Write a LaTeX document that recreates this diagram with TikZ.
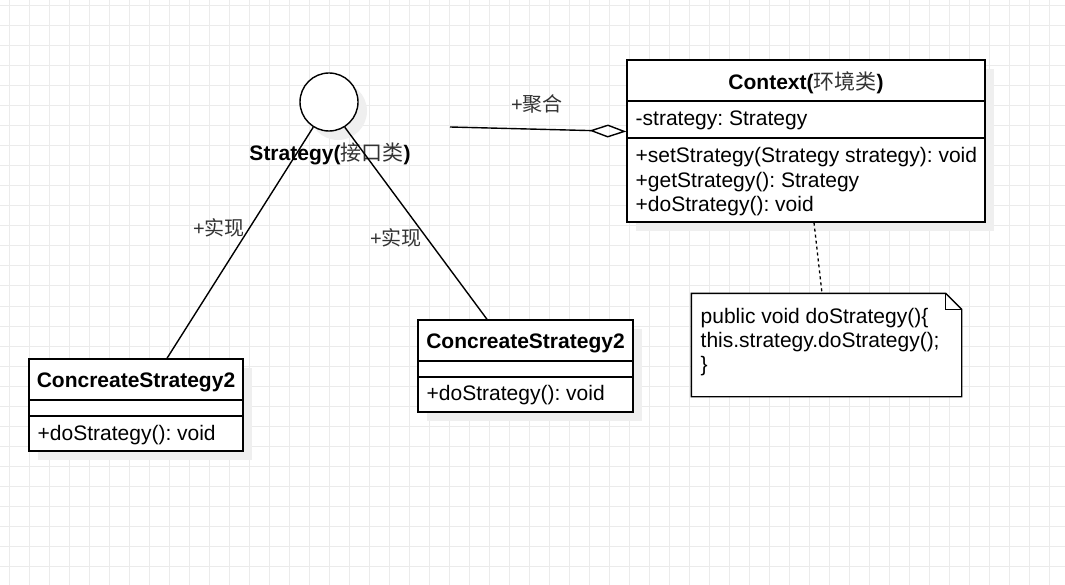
\documentclass[tikz,border=0pt]{standalone}
\usepackage{fontspec}
\setmainfont{Liberation Sans}
\newfontfamily\cjk{Noto Sans CJK SC}
\usetikzlibrary{arrows.meta,shadows}
\definecolor{gridc}{HTML}{EBEBEB}
\definecolor{shadowc}{HTML}{EFEFEF}
\definecolor{lblc}{HTML}{333333}
\newcommand{\cj}[1]{{\cjk\mdseries\color{lblc}#1}}
\frenchspacing
\begin{document}
\begin{tikzpicture}[x=1pt,y=-1pt,
  font=\fontsize{21}{24.5}\selectfont,
  line width=1.4pt,
  shad/.style={drop shadow={shadow xshift=9pt,shadow yshift=-9pt,fill=shadowc,opacity=1}},
  classbox/.style={draw,fill=white,inner sep=0,shad},
  ctitle/.style={font=\fontsize{21}{24.5}\selectfont\bfseries,inner sep=0,yshift=-2pt},
  member/.style={anchor=west,inner sep=0,yshift=-2pt},
  lbl/.style={inner sep=0,text=lblc,font=\fontsize{20}{24}\selectfont}]
\useasboundingbox (0,0) rectangle (1065,585);
\fill[white] (0,0) rectangle (1065,585);
\foreach \x in {9,29,...,1065} \draw[gridc,line width=1pt] (\x,0) -- (\x,585);
\foreach \y in {6,26,...,585} \draw[gridc,line width=1pt] (0,\y) -- (1065,\y);

% interface
\node[circle,draw,fill=white,minimum size=58,inner sep=0,shad] (iface) at (329,102) {};
\node[ctitle] (ifacel) at (330,152) {Strategy(\cj{接口类})};

% context class
\node[classbox,minimum width=358,minimum height=162] (ctx) at (806,141) {};
\draw (ctx.west |- 0,101) -- (ctx.east |- 0,101);
\draw (ctx.west |- 0,138) -- (ctx.east |- 0,138);
\node[ctitle] (ctxt) at (806,81) {Context(\cj{环境类})};
\node[member] (ctxa) at (635,118) {-strategy: Strategy};
\node[member] (ctxm1) at (635,155) {+setStrategy(Strategy strategy): void};
\node[member] (ctxm2) at (635,180) {+getStrategy(): Strategy};
\node[member] (ctxm3) at (635,204) {+doStrategy(): void};

% concrete strategy (left)
\node[classbox,minimum width=214,minimum height=92] (cs1) at (136,405) {};
\draw (cs1.west |- 0,400) -- (cs1.east |- 0,400);
\draw (cs1.west |- 0,416) -- (cs1.east |- 0,416);
\node[ctitle] (cs1t) at (136,380) {ConcreateStrategy2};
\node[member] (cs1m) at (37,433) {+doStrategy(): void};

% concrete strategy (middle)
\node[classbox,minimum width=215,minimum height=92] (cs2) at (525.5,366) {};
\draw (cs2.west |- 0,361) -- (cs2.east |- 0,361);
\draw (cs2.west |- 0,377) -- (cs2.east |- 0,377);
\node[ctitle] (cs2t) at (525.5,341) {ConcreateStrategy2};
\node[member] (cs2m) at (426,393) {+doStrategy(): void};

% note
\node[inner sep=0,minimum width=269,minimum height=102] (note) at (826.5,345) {};
\draw[fill=white] (note.north west) -- ([xshift=-16pt]note.north east) -- ([yshift=-16pt]note.north east) -- (note.south east) -- (note.south west) -- cycle;
\draw ([xshift=-16pt]note.north east) |- ([yshift=-16pt]note.north east);
\node[member] (n1) at (700,316) {public void doStrategy()\{};
\node[member] (n2) at (700,340) {this.strategy.doStrategy();};
\node[member] (n3) at (700,364) {\}};

% connectors
\draw (iface.-122) -- ([xshift=31pt]cs1.north);
\draw (iface.-58) -- ([xshift=-38.5pt]cs2.north);
\coordinate (aggs) at (450,127);
\draw[-{Diamond[open,length=37pt,width=13pt,line width=1.4pt]}] (aggs) -- ([yshift=9.5pt]ctx.west);
\draw[dashed,line width=1.3pt] ([xshift=8pt]ctx.south) -- ([xshift=-4.5pt]note.north);

% labels
\node[lbl] (l1) at (537,104) {+\cjk 聚合};
\node[lbl] (l2) at (219,228) {+\cjk 实现};
\node[lbl] (l3) at (396,238) {+\cjk 实现};
\end{tikzpicture}
\end{document}
